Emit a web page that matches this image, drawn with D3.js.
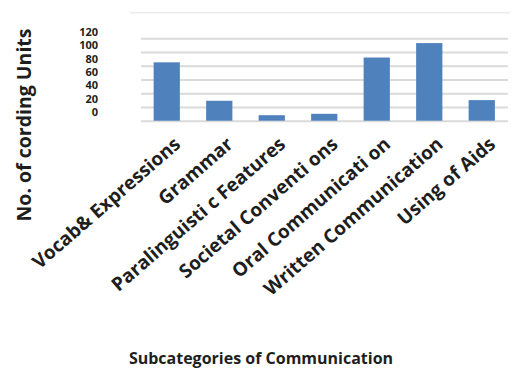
<!DOCTYPE html>
<html>
<head>
<meta charset="utf-8">
<script src="https://cdn.jsdelivr.net/npm/d3@7"></script>
<style>
  html, body { margin: 0; padding: 0; background: #fff; }
  text { font-family: "Open Sans", sans-serif; font-weight: 700; fill: #1e1e1e; }
</style>
</head>
<body>
<div id="chart"></div>
<script>
// set svg width and height
const width = 520,
  height = 369;

// datos
const categories = [
  "Vocab& Expressions",
  "Grammar",
  "Paralinguisti c Features",
  "Societal Conventi ons",
  "Oral Communicati on",
  "Written Communication",
  "Using of Aids"
];
const values = [85, 29, 8, 10, 92, 113, 30];
const yTicks = [0, 20, 40, 60, 80, 100, 120];

const svg = d3
  .select("#chart")
  .append("svg")
  .attr("width", width)
  .attr("height", height);

// escalas
const xScale = d3
  .scaleBand()
  .domain(categories)
  .range([140.5, 508])
  .paddingInner(0.5)
  .paddingOuter(0.25);

const yScale = d3.scaleLinear().domain([0, 120]).range([120.7, 38.3]);

// las etiquetas del eje Y no coinciden con las lineas en el original
const yLabelScale = d3.scaleLinear().domain([0, 120]).range([112, 32]);

// borde superior del area
svg
  .append("line")
  .attr("x1", 130)
  .attr("x2", 510)
  .attr("y1", 12.7)
  .attr("y2", 12.7)
  .attr("stroke", "#ececec")
  .attr("stroke-width", 1.5);

// lineas de la cuadricula
const grid = svg
  .append("g")
  .call(
    d3.axisLeft(yScale)
      .tickValues(yTicks)
      .tickSize(-(508 - 141))
      .tickFormat("")
  )
  .attr("transform", "translate(141,0)");
grid.select(".domain").remove();
grid.selectAll(".tick line").attr("stroke", "#dadada").attr("stroke-width", 2);

// etiquetas del eje Y
const yAxis = svg
  .append("g")
  .attr("transform", "translate(98,0)")
  .call(d3.axisLeft(yLabelScale).tickValues(yTicks).tickSize(0).tickPadding(0));
yAxis.select(".domain").remove();
yAxis
  .selectAll("text")
  .style("font-family", "'Open Sans', sans-serif")
  .style("font-weight", 700)
  .style("font-size", "11px")
  .attr("fill", "#1e1e1e");

// barras
svg
  .append("g")
  .selectAll("rect")
  .data(values)
  .enter()
  .append("rect")
  .attr("x", (d, i) => xScale(categories[i]))
  .attr("y", (d) => yScale(d))
  .attr("width", xScale.bandwidth())
  .attr("height", (d) => yScale(0) - yScale(d))
  .attr("fill", "#4f81bd");

// etiquetas del eje X rotadas
const xAxis = svg
  .append("g")
  .call(d3.axisBottom(xScale).tickSize(0).tickPadding(0));
xAxis.select(".domain").remove();
xAxis
  .selectAll(".tick")
  .attr("transform", (d) => `translate(${xScale(d) + xScale.bandwidth() / 2 + 15},146)`);
xAxis
  .selectAll("text")
  .attr("y", 0)
  .attr("dy", 0)
  .attr("text-anchor", "end")
  .attr("transform", "rotate(-41)")
  .style("font-family", "'Open Sans', sans-serif")
  .style("font-weight", 700)
  .style("font-size", "19px")
  .attr("fill", "#1e1e1e");

// titulo eje Y
svg
  .append("text")
  .attr("transform", "translate(31,125) rotate(-90)")
  .attr("text-anchor", "middle")
  .style("font-size", "19.5px")
  .text("No. of cording Units");

// titulo eje X
svg
  .append("text")
  .attr("x", 261)
  .attr("y", 364)
  .attr("text-anchor", "middle")
  .style("font-size", "16px")
  .text("Subcategories of Communication");
</script>
</body>
</html>
